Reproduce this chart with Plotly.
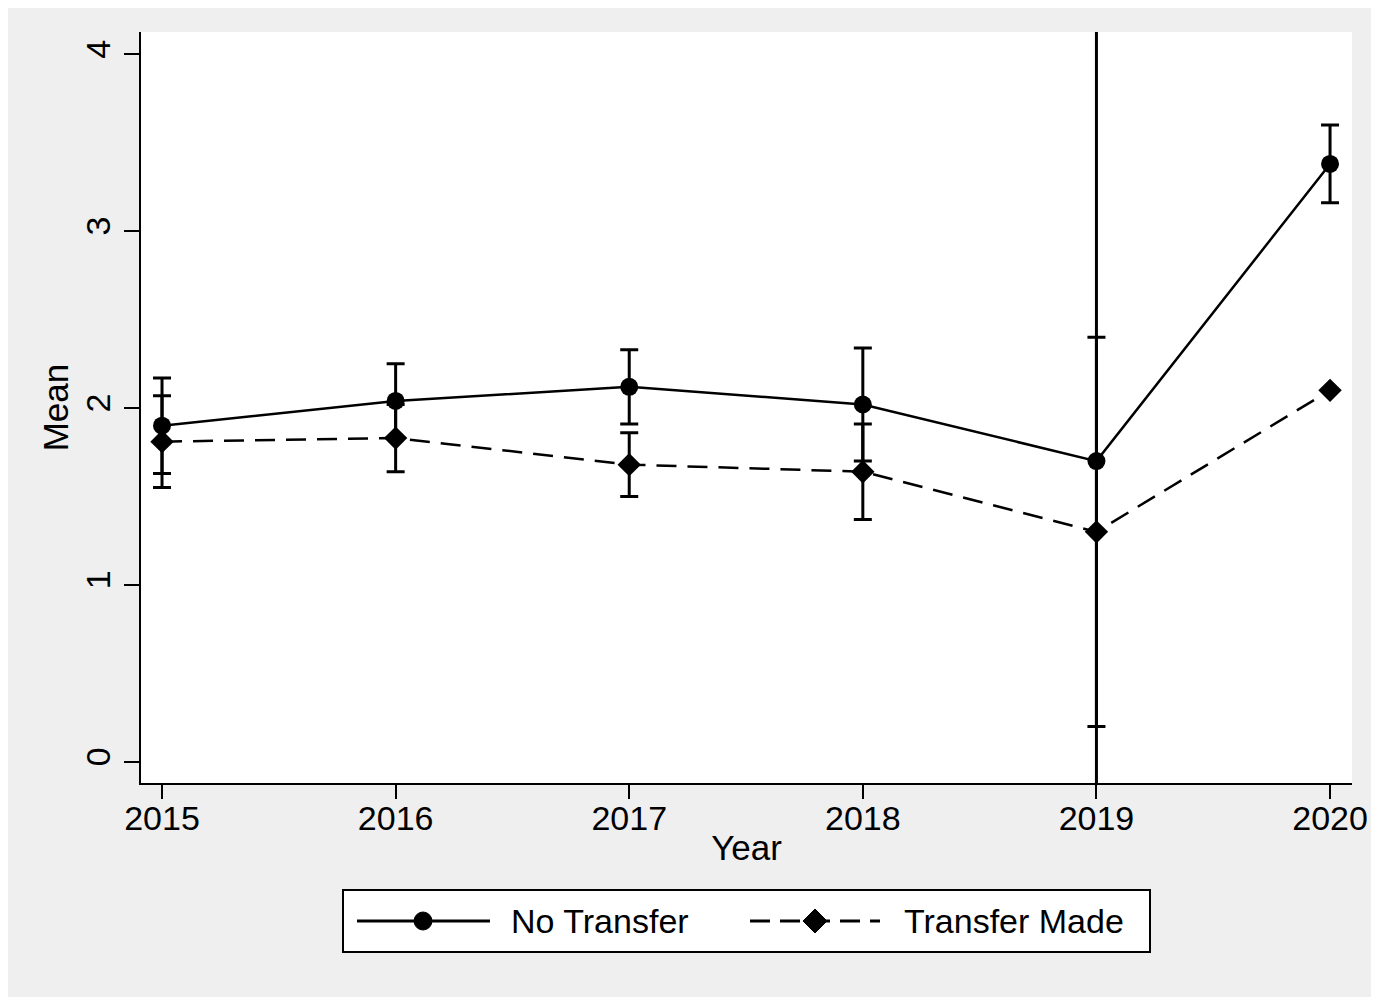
import plotly.graph_objects as go

years = [2015, 2016, 2017, 2018, 2019, 2020]

no_transfer_mean = [1.90, 2.04, 2.12, 2.02, 1.70, 3.38]
no_transfer_err = [0.27, 0.21, 0.21, 0.32, 2.80, 0.22]

transfer_mean = [1.81, 1.83, 1.68, 1.64, 1.30, 2.10]
transfer_err = [0.26, 0.19, 0.18, 0.27, 1.10, 0.0]

y_ticks = [0, 1, 2, 3, 4]
series_names = ["No Transfer", "Transfer Made"]

FONT = "Liberation Sans, Arial, sans-serif"

# figure geometry (pixels, relative to the figure)
W, H = 1371, 989
ML, MR, MT, MB = 133, 27, 24, 214
PW = W - ML - MR
PH = H - MT - MB


def px(x):
    return (x - ML) / PW


def py(y):
    return (H - MB - y) / PH


fig = go.Figure()

fig.add_trace(go.Scatter(
    x=years, y=no_transfer_mean, name=series_names[0], mode="lines+markers",
    line=dict(color="black", width=2.5),
    marker=dict(symbol="circle", size=18, color="black"),
    error_y=dict(type="data", array=no_transfer_err, visible=True,
                 color="black", thickness=3, width=9),
))

fig.add_trace(go.Scatter(
    x=years, y=transfer_mean, name=series_names[1], mode="lines+markers",
    line=dict(color="black", width=2.5, dash="20px,11px"),
    marker=dict(symbol="diamond", size=18, color="black"),
    error_y=dict(type="data", array=transfer_err, visible=True,
                 color="black", thickness=3, width=9),
))

# ---- legend drawn as a box below the plot (pixel positions relative to figure) ----
box_x0, box_x1, box_y0, box_y1 = 335, 1142, 882, 944
cy = (box_y0 + box_y1) / 2
shapes = [
    dict(type="rect", xref="paper", yref="paper",
         x0=px(box_x0), x1=px(box_x1), y0=py(box_y1), y1=py(box_y0),
         line=dict(color="black", width=2), fillcolor="white", layer="above"),
    dict(type="line", xref="paper", yref="paper",
         x0=px(349), x1=px(482), y0=py(cy), y1=py(cy),
         line=dict(color="black", width=3)),
    dict(type="circle", xref="paper", yref="paper",
         x0=px(406), x1=px(424), y0=py(cy + 9), y1=py(cy - 9),
         line=dict(color="black", width=1), fillcolor="black"),
    dict(type="line", xref="paper", yref="paper",
         x0=px(742), x1=px(872), y0=py(cy), y1=py(cy),
         line=dict(color="black", width=3, dash="20px,10px")),
]
dcx = 807
d = 12
shapes.append(dict(
    type="path", xref="paper", yref="paper",
    path=(f"M {px(dcx - d)},{py(cy)} L {px(dcx)},{py(cy - d)} "
          f"L {px(dcx + d)},{py(cy)} L {px(dcx)},{py(cy + d)} Z"),
    line=dict(color="black", width=1), fillcolor="black"))

annotations = [
    dict(text=series_names[0], xref="paper", yref="paper", x=px(501), y=py(cy),
         xanchor="left", yanchor="middle", showarrow=False,
         font=dict(size=34, family=FONT, color="black")),
    dict(text=series_names[1], xref="paper", yref="paper", x=px(894), y=py(cy),
         xanchor="left", yanchor="middle", showarrow=False,
         font=dict(size=34, family=FONT, color="black")),
]

fig.update_layout(
    width=W, height=H,
    margin=dict(l=ML, r=MR, t=MT, b=MB, pad=0),
    paper_bgcolor="#efefef",
    plot_bgcolor="white",
    font=dict(family=FONT, size=34, color="black"),
    showlegend=False,
    shapes=shapes,
    annotations=annotations,
)

fig.update_xaxes(
    range=[2014.91, 2020.094], tickvals=years, ticktext=[str(y) for y in years],
    showline=True, linecolor="black", linewidth=2, ticks="outside",
    ticklen=14, tickwidth=2, tickcolor="black", showgrid=False, zeroline=False,
    tickfont=dict(size=34), ticklabelstandoff=-10,
    title=dict(text="Year", standoff=0, font=dict(size=35)),
)

fig.update_yaxes(
    range=[-0.12, 4.126], tickvals=y_ticks, tickangle=-90,
    showline=True, linecolor="black", linewidth=2, ticks="outside",
    ticklen=15, tickwidth=2, tickcolor="black", showgrid=False, zeroline=False,
    tickfont=dict(size=34),
    title=dict(text="Mean", standoff=0, font=dict(size=35)),
)

fig.write_html("out.html")
